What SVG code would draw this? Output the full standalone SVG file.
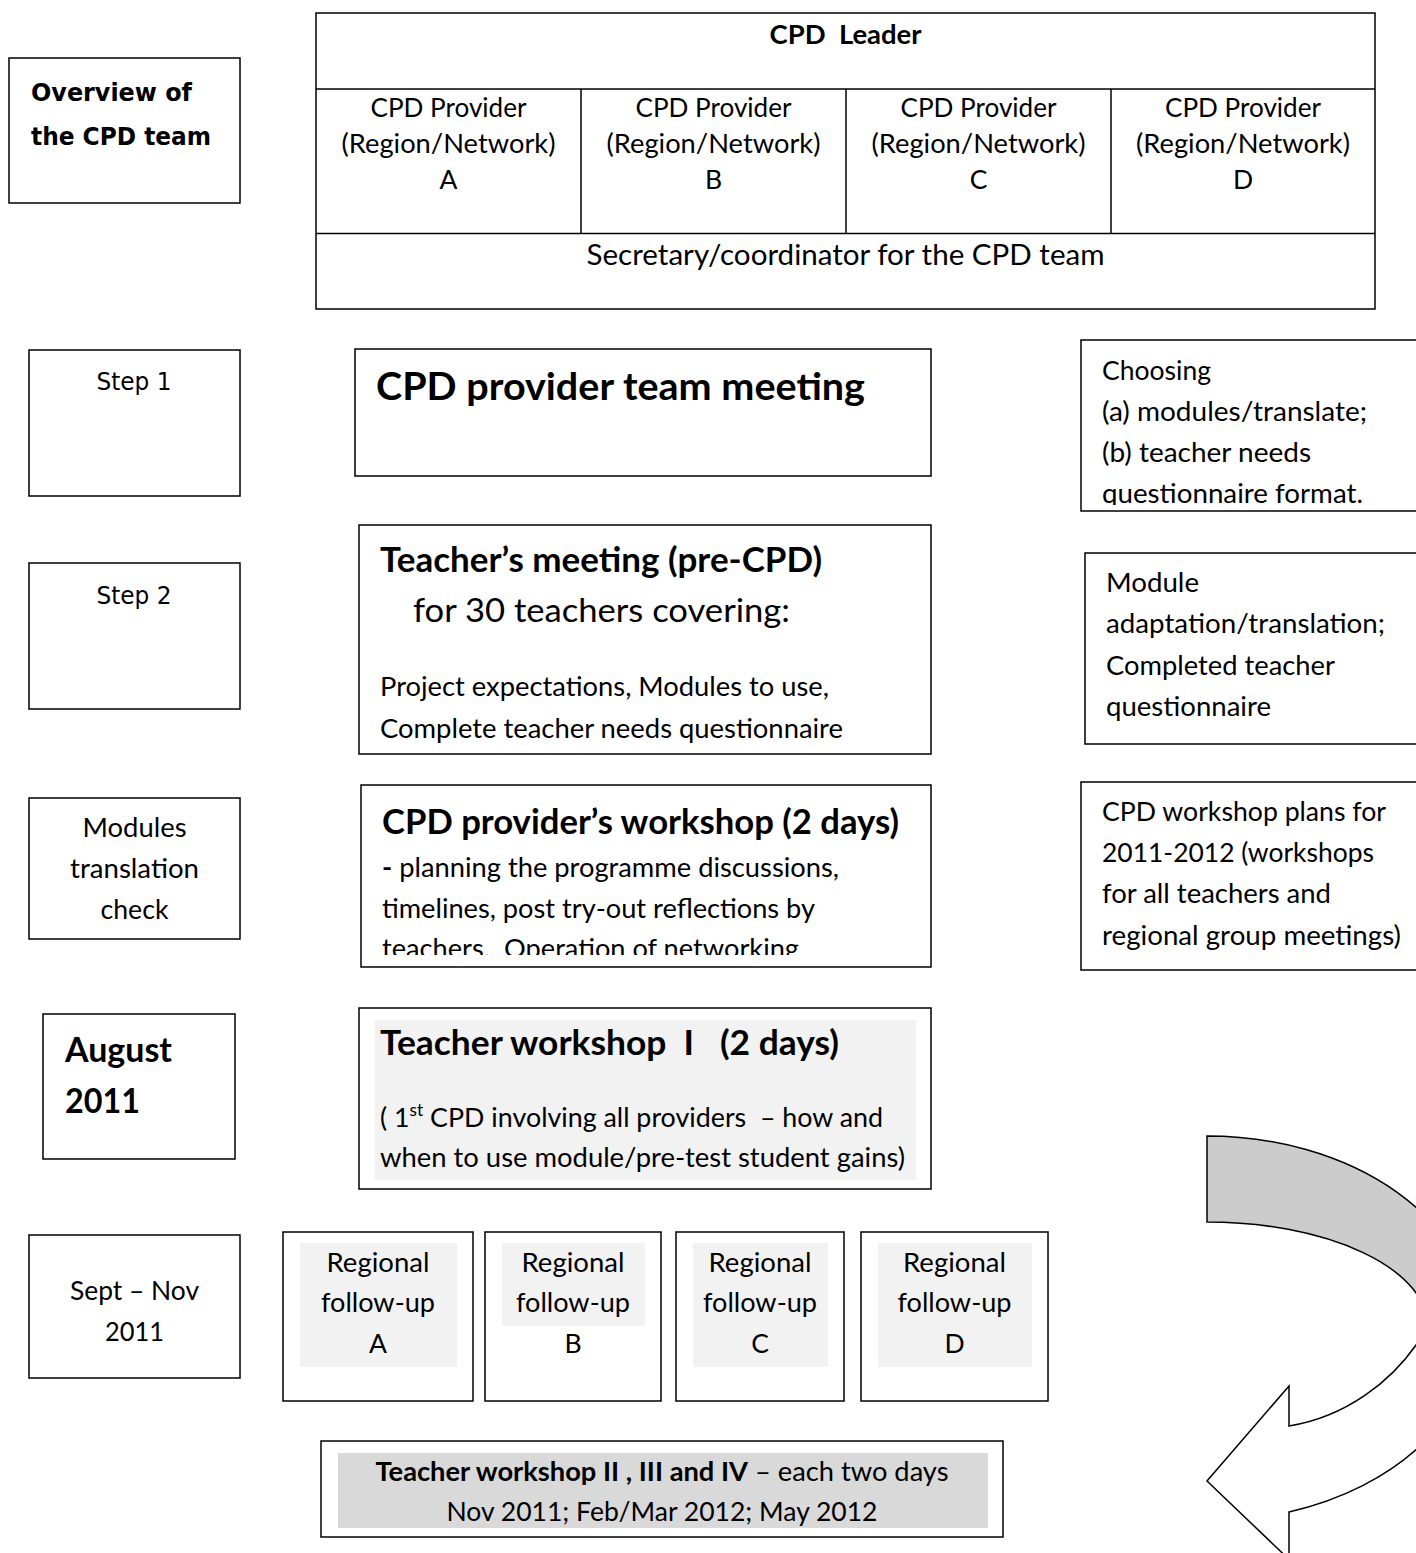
<svg xmlns="http://www.w3.org/2000/svg" width="1416" height="1553" viewBox="0 0 1416 1553">
<style>
.box{fill:#fff;stroke:#000;stroke-width:1.5}
.lt{fill:#f2f2f2;stroke:none}
.dk{fill:#d9d9d9;stroke:none}
.ln{stroke:#000;stroke-width:1.5;fill:none}
text{font-family:Lato,"Liberation Sans",sans-serif;font-size:26.5px;fill:#000}
.b{font-weight:700}
.h{font-size:33.5px;font-weight:700}
.hh{font-size:38px;font-weight:700}
.m{text-anchor:middle}
.v{font-family:"DejaVu Sans",Verdana,sans-serif;font-size:24px}
.pre{white-space:pre}
</style>
<defs>
<clipPath id="clipChoose"><rect x="1081" y="340" width="400" height="165"/></clipPath>
<clipPath id="clipWork"><rect x="361" y="785" width="570" height="170"/></clipPath>
</defs>

<g id="overview">
<rect class="box" x="9" y="58" width="231" height="145"/>
<text class="v b" x="31" y="101" textLength="161" lengthAdjust="spacingAndGlyphs">Overview of</text>
<text class="v b" x="31" y="145" textLength="180" lengthAdjust="spacingAndGlyphs">the CPD team</text>
</g>

<g id="cpd-team">
<rect class="box" x="316" y="13" width="1059" height="296"/>
<line class="ln" x1="316" y1="89" x2="1375" y2="89"/>
<line class="ln" x1="316" y1="233.5" x2="1375" y2="233.5"/>
<line class="ln" x1="581" y1="89" x2="581" y2="233.5"/>
<line class="ln" x1="846" y1="89" x2="846" y2="233.5"/>
<line class="ln" x1="1111" y1="89" x2="1111" y2="233.5"/>
<text class="b m pre" xml:space="preserve" x="845.5" y="44" textLength="152" lengthAdjust="spacingAndGlyphs">CPD  Leader</text>
<text class="m" x="448.5" y="117" textLength="156" lengthAdjust="spacingAndGlyphs">CPD Provider</text>
<text class="m" x="448.5" y="153" textLength="214" lengthAdjust="spacingAndGlyphs">(Region/Network)</text>
<text class="m" x="448.5" y="189">A</text>
<text class="m" x="713.5" y="117" textLength="156" lengthAdjust="spacingAndGlyphs">CPD Provider</text>
<text class="m" x="713.5" y="153" textLength="214" lengthAdjust="spacingAndGlyphs">(Region/Network)</text>
<text class="m" x="713.5" y="189">B</text>
<text class="m" x="978.5" y="117" textLength="156" lengthAdjust="spacingAndGlyphs">CPD Provider</text>
<text class="m" x="978.5" y="153" textLength="214" lengthAdjust="spacingAndGlyphs">(Region/Network)</text>
<text class="m" x="978.5" y="189">C</text>
<text class="m" x="1243" y="117" textLength="156" lengthAdjust="spacingAndGlyphs">CPD Provider</text>
<text class="m" x="1243" y="153" textLength="214" lengthAdjust="spacingAndGlyphs">(Region/Network)</text>
<text class="m" x="1243" y="189">D</text>
<text class="m" x="845.5" y="265" style="font-size:28px" textLength="518" lengthAdjust="spacingAndGlyphs">Secretary/coordinator for the CPD team</text>
</g>

<g id="step1">
<rect class="box" x="29" y="350" width="211" height="146"/>
<text class="v m" x="134" y="390" textLength="75" lengthAdjust="spacingAndGlyphs">Step 1</text>
</g>

<g id="provider-team-meeting">
<rect class="box" x="355" y="349" width="576" height="127"/>
<text class="hh" x="376" y="400" textLength="489" lengthAdjust="spacingAndGlyphs">CPD provider team meeting</text>
</g>

<g id="choosing">
<rect class="box" x="1081" y="340" width="400" height="171"/>
<g clip-path="url(#clipChoose)">
<text x="1102" y="380" textLength="109" lengthAdjust="spacingAndGlyphs">Choosing</text>
<text x="1102" y="421" textLength="265" lengthAdjust="spacingAndGlyphs">(a) modules/translate;</text>
<text x="1102" y="462" textLength="209" lengthAdjust="spacingAndGlyphs">(b) teacher needs</text>
<text x="1102" y="503" textLength="261" lengthAdjust="spacingAndGlyphs">questionnaire format.</text>
</g>
</g>

<g id="step2">
<rect class="box" x="29" y="563" width="211" height="146"/>
<text class="v m" x="134" y="604" textLength="75" lengthAdjust="spacingAndGlyphs">Step 2</text>
</g>

<g id="teachers-meeting">
<rect class="box" x="359" y="525" width="572" height="229"/>
<text class="h" x="380" y="572" textLength="442" lengthAdjust="spacingAndGlyphs">Teacher’s meeting (pre-CPD)</text>
<text x="413" y="622" style="font-size:33.5px" textLength="377" lengthAdjust="spacingAndGlyphs">for 30 teachers covering:</text>
<text x="380" y="696" textLength="449" lengthAdjust="spacingAndGlyphs">Project expectations, Modules to use,</text>
<text x="380" y="738" textLength="463" lengthAdjust="spacingAndGlyphs">Complete teacher needs questionnaire</text>
</g>

<g id="module-adaptation">
<rect class="box" x="1085" y="553" width="400" height="191"/>
<text x="1106" y="592" textLength="93" lengthAdjust="spacingAndGlyphs">Module</text>
<text x="1106" y="633" textLength="279" lengthAdjust="spacingAndGlyphs">adaptation/translation;</text>
<text x="1106" y="675" textLength="229" lengthAdjust="spacingAndGlyphs">Completed teacher</text>
<text x="1106" y="716" textLength="165" lengthAdjust="spacingAndGlyphs">questionnaire</text>
</g>

<g id="translation-check">
<rect class="box" x="29" y="798" width="211" height="141"/>
<text class="m" x="134.5" y="837" textLength="104" lengthAdjust="spacingAndGlyphs">Modules</text>
<text class="m" x="134.5" y="878" textLength="129" lengthAdjust="spacingAndGlyphs">translation</text>
<text class="m" x="134.5" y="919" textLength="68" lengthAdjust="spacingAndGlyphs">check</text>
</g>

<g id="provider-workshop">
<rect class="box" x="361" y="785" width="570" height="182"/>
<text class="h" x="382" y="834" textLength="517" lengthAdjust="spacingAndGlyphs">CPD provider’s workshop (2 days)</text>
<g clip-path="url(#clipWork)">
<text x="382" y="877" textLength="457" lengthAdjust="spacingAndGlyphs"><tspan class="b">-</tspan> planning the programme discussions,</text>
<text x="382" y="918" textLength="433" lengthAdjust="spacingAndGlyphs">timelines, post try-out reflections by</text>
<text class="pre" xml:space="preserve" x="382" y="958" textLength="417" lengthAdjust="spacingAndGlyphs">teachers.  Operation of networking</text>
</g>
</g>

<g id="workshop-plans">
<rect class="box" x="1081" y="782" width="400" height="188"/>
<text x="1102" y="821" textLength="284" lengthAdjust="spacingAndGlyphs">CPD workshop plans for</text>
<text x="1102" y="862" textLength="272" lengthAdjust="spacingAndGlyphs">2011-2012 (workshops</text>
<text x="1102" y="903" textLength="229" lengthAdjust="spacingAndGlyphs">for all teachers and</text>
<text x="1102" y="945" textLength="299" lengthAdjust="spacingAndGlyphs">regional group meetings)</text>
</g>

<g id="august">
<rect class="box" x="43" y="1014" width="192" height="145"/>
<text class="h" x="65" y="1062" textLength="107" lengthAdjust="spacingAndGlyphs">August</text>
<text class="h" x="65" y="1113" textLength="75" lengthAdjust="spacingAndGlyphs">2011</text>
</g>

<g id="teacher-workshop-1">
<rect class="box" x="359" y="1008" width="572" height="181"/>
<rect class="lt" x="375" y="1020" width="541" height="160"/>
<text class="h pre" xml:space="preserve" x="380" y="1055" textLength="459" lengthAdjust="spacingAndGlyphs">Teacher workshop  I   (2 days)</text>
<text class="pre" xml:space="preserve" x="380" y="1127" textLength="503" lengthAdjust="spacingAndGlyphs">( 1<tspan dy="-11" style="font-size:17px">st</tspan><tspan dy="11"> CPD involving all providers  – how and</tspan></text>
<text x="380" y="1167" textLength="525" lengthAdjust="spacingAndGlyphs">when to use module/pre-test student gains)</text>
</g>

<g id="sept-nov">
<rect class="box" x="29" y="1235" width="211" height="143"/>
<text class="m" x="134.5" y="1300" textLength="129" lengthAdjust="spacingAndGlyphs">Sept – Nov</text>
<text class="m" x="134.5" y="1341" textLength="59" lengthAdjust="spacingAndGlyphs">2011</text>
</g>

<g id="regional-a">
<rect class="box" x="283" y="1232" width="190" height="169"/>
<rect class="lt" x="300" y="1243" width="157" height="124"/>
<text class="m" x="378" y="1272" textLength="103" lengthAdjust="spacingAndGlyphs">Regional</text>
<text class="m" x="378" y="1312" textLength="114" lengthAdjust="spacingAndGlyphs">follow-up</text>
<text class="m" x="378" y="1353">A</text>
</g>
<g id="regional-b">
<rect class="box" x="485" y="1232" width="176" height="169"/>
<rect class="lt" x="502" y="1243" width="143" height="83"/>
<text class="m" x="573" y="1272" textLength="103" lengthAdjust="spacingAndGlyphs">Regional</text>
<text class="m" x="573" y="1312" textLength="114" lengthAdjust="spacingAndGlyphs">follow-up</text>
<text class="m" x="573" y="1353">B</text>
</g>
<g id="regional-c">
<rect class="box" x="676" y="1232" width="168" height="169"/>
<rect class="lt" x="693" y="1243" width="135" height="124"/>
<text class="m" x="760" y="1272" textLength="103" lengthAdjust="spacingAndGlyphs">Regional</text>
<text class="m" x="760" y="1312" textLength="114" lengthAdjust="spacingAndGlyphs">follow-up</text>
<text class="m" x="760" y="1353">C</text>
</g>
<g id="regional-d">
<rect class="box" x="861" y="1232" width="187" height="169"/>
<rect class="lt" x="878" y="1243" width="154" height="124"/>
<text class="m" x="954.5" y="1272" textLength="103" lengthAdjust="spacingAndGlyphs">Regional</text>
<text class="m" x="954.5" y="1312" textLength="114" lengthAdjust="spacingAndGlyphs">follow-up</text>
<text class="m" x="954.5" y="1353">D</text>
</g>

<g id="teacher-workshop-2-4">
<rect class="box" x="321" y="1441" width="682" height="96"/>
<rect class="dk" x="338" y="1453" width="650" height="75"/>
<text class="m" x="662" y="1481" textLength="573" lengthAdjust="spacingAndGlyphs"><tspan class="b">Teacher workshop II , III and IV</tspan> – each two days</text>
<text class="m" x="662" y="1521" textLength="431" lengthAdjust="spacingAndGlyphs">Nov 2011; Feb/Mar 2012; May 2012</text>
</g>

<g id="connectors">
<path d="M1207,1136 A269,192.5 0 0 1 1476,1328.5 L1427.7,1326.5 A220.7,104.5 0 0 0 1207,1222 Z" fill="#cccccc" stroke="#000" stroke-width="1.5"/>
<path d="M1476,1328.5 A269,192.5 0 0 1 1289,1512 L1289,1559.4 L1207,1481 L1289,1386 L1289,1426 C1340,1418 1395,1385 1427.7,1326.5 Z" fill="#fff" stroke="#000" stroke-width="1.5" stroke-linejoin="miter"/>
</g>
</svg>
